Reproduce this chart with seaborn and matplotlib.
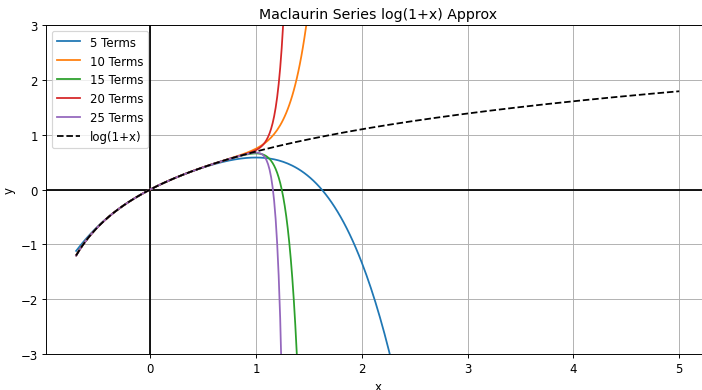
import numpy as np
import pandas as pd
import matplotlib
matplotlib.use("Agg")
import matplotlib.pyplot as plt
import seaborn as sns

# Number of series terms in each partial sum, and the x range they are evaluated over
term_counts = [5, 10, 15, 20, 25]
series_colors = ["#1f77b4", "#ff7f0e", "#2ca02c", "#d62728", "#9467bd"]
x_start, x_end = -0.7, 5.0
n_samples = 400


def maclaurin_log1p(x, terms):
    """Partial sum of sum_{n=1}^{terms-1} (-1)^(n+1) x^n / n."""
    total = np.zeros_like(x)
    for n in range(1, terms):
        total += ((-1) ** (n + 1)) * x ** n / n
    return total


x = np.linspace(x_start, x_end, n_samples)

frames = []
for t in term_counts:
    frames.append(pd.DataFrame({"x": x, "y": maclaurin_log1p(x, t), "series": f"{t} Terms"}))
approx = pd.concat(frames, ignore_index=True)
exact = pd.DataFrame({"x": x, "y": np.log1p(x)})

DPI = 85
fig = plt.figure(figsize=(702 / DPI, 391 / DPI), dpi=DPI)
ax = fig.add_axes([0.0655, 0.092, 0.945, 0.8415])

sns.lineplot(data=approx, x="x", y="y", hue="series",
             palette=series_colors, ax=ax, linewidth=1.5, sort=False,
             estimator=None)
sns.lineplot(data=exact, x="x", y="y", ax=ax, color="black",
             linestyle="--", linewidth=1.5, label="log(1+x)")

ax.axhline(0, color="black", linewidth=1.5, zorder=1)
ax.axvline(0, color="black", linewidth=1.5, zorder=1)
ax.set_ylim(-3, 3)
ax.set_xlim(-0.985, 5.285)
ax.set_xticks([0, 1, 2, 3, 4, 5])
ax.set_yticks([-3, -2, -1, 0, 1, 2, 3])
ax.grid(True, color="#b0b0b0", linewidth=0.8)
ax.set_axisbelow(True)
ax.set_title("Maclaurin Series log(1+x) Approx")
ax.set_xlabel("x")
ax.set_ylabel("y")
ax.legend(loc="upper left", title=None)

fig.savefig("out.png", dpi=DPI)
